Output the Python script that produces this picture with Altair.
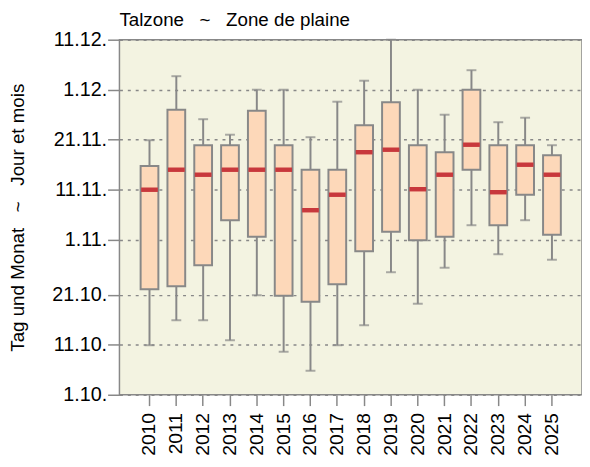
import altair as alt
import pandas as pd

# Days counted from 1 October (0 = 1.10.)
years = [str(y) for y in range(2010, 2026)]
lo  = [9.9, 14.9, 14.9, 10.9, 19.9, 8.6, 4.8, 9.9, 13.9, 24.5, 18.2, 25.4, 33.9, 28.1, 34.9, 27.0]
q1  = [21.1, 21.7, 25.9, 34.9, 31.6, 19.8, 18.6, 22.1, 28.7, 32.6, 30.9, 31.6, 45.0, 33.9, 40.0, 32.0]
med = [41.0, 45.0, 44.0, 45.0, 45.0, 45.0, 36.9, 40.0, 48.5, 49.0, 41.1, 44.0, 50.0, 40.5, 46.0, 44.0]
q3  = [45.75, 57.0, 49.9, 49.9, 56.8, 49.9, 45.0, 45.0, 53.9, 58.5, 49.9, 48.5, 61.0, 49.9, 49.9, 47.9]
hi  = [50.9, 63.7, 55.1, 52.0, 61.0, 61.0, 51.5, 58.6, 62.8, 71.0, 61.0, 56.0, 64.9, 54.5, 55.4, 49.9]

tick_values = [0, 10, 20, 31, 41, 51, 61, 71]
tick_labels = ["1.10.", "11.10.", "21.10.", "1.11.", "11.11.", "21.11.", "1.12.", "11.12."]

df = pd.DataFrame({"year": years, "lo": lo, "q1": q1, "med": med, "q3": q3, "hi": hi})

FONT = "Liberation Sans"
GRAY = "#888888"
SP = "\u00a0\u00a0\u00a0"

label_expr = " : ".join(
    f"datum.value == {v} ? '{l}'" for v, l in zip(tick_values, tick_labels)
) + " : ''"

x = alt.X("year:N", title=None,
          scale=alt.Scale(paddingInner=0, paddingOuter=0.62),
          axis=alt.Axis(labelAngle=-90, labelFontSize=19.5, labelFont=FONT, labelColor="black",
                        tickSize=11, tickColor=GRAY, tickWidth=1.5, labelPadding=7,
                        domain=False, grid=False))

yscale = alt.Scale(domain=[0, 71], nice=False, zero=False)
yaxis = alt.Axis(values=tick_values, labelExpr=label_expr, labelFontSize=20, labelFont=FONT,
                 labelColor="black", tickSize=12, tickColor=GRAY, tickWidth=1.5, labelPadding=1,
                 domain=False, grid=True, gridColor=GRAY, gridDash=[3, 5], gridWidth=1.5,
                 title=f"Tag und Monat{SP}~{SP}Jour et mois", titleFont=FONT, titleFontSize=19,
                 titleFontWeight="normal", titleColor="black", titlePadding=25)

base = alt.Chart(df)

whisk = base.mark_rule(color=GRAY, strokeWidth=2).encode(
    x=x, y=alt.Y("lo:Q", scale=yscale, axis=yaxis), y2="hi:Q")
caps_lo = base.mark_tick(color=GRAY, size=10, thickness=2).encode(x=x, y=alt.Y("lo:Q", scale=yscale))
caps_hi = base.mark_tick(color=GRAY, size=10, thickness=2).encode(x=x, y=alt.Y("hi:Q", scale=yscale))
box = base.mark_bar(size=18, fill="#fdd8b9", stroke=GRAY, strokeWidth=2).encode(
    x=x, y=alt.Y("q1:Q", scale=yscale), y2="q3:Q")
median = base.mark_tick(color="#c8383c", size=17, thickness=4.5, opacity=1).encode(
    x=x, y=alt.Y("med:Q", scale=yscale))

chart = alt.layer(whisk, caps_lo, caps_hi, box, median).properties(
    width=469, height=360,
    padding={"left": 0, "top": 0, "right": 0, "bottom": 0},
    background="white",
    title=alt.TitleParams(f"Talzone{SP}~{SP}Zone de plaine", anchor="start", frame="group",
                          font=FONT, fontSize=19, fontWeight="normal", color="black",
                          offset=0),
).configure_view(fill="#f3f3e1", stroke=GRAY, strokeWidth=1.5)

chart.save("out.html", embed_options={"renderer": "svg", "actions": False})
